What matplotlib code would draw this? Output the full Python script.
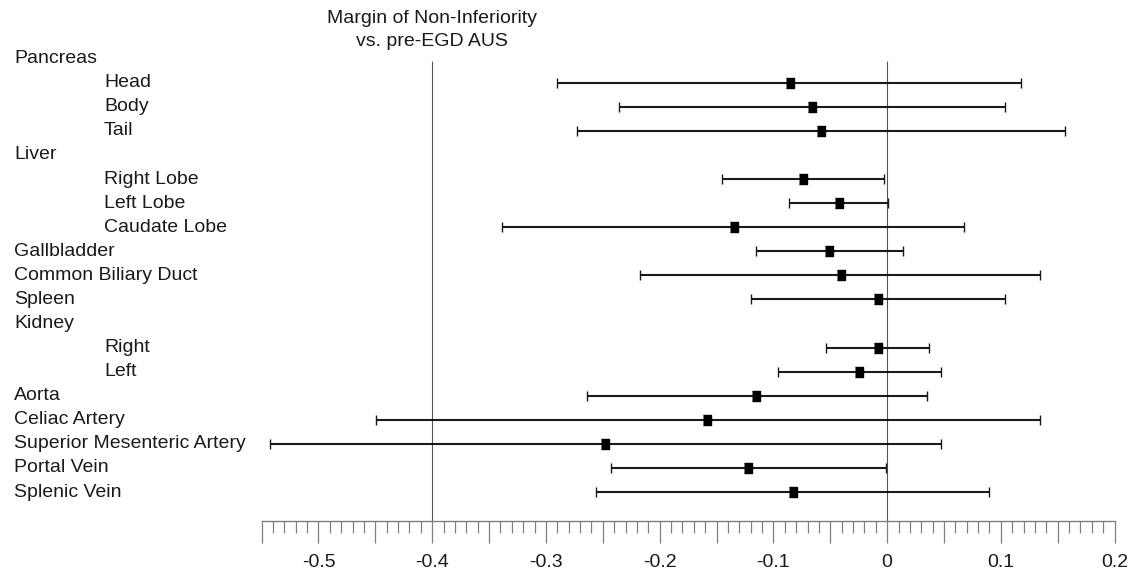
import numpy as np
import matplotlib.pyplot as plt
from matplotlib.ticker import MultipleLocator, FuncFormatter
from matplotlib.transforms import blended_transform_factory

plt.rcParams['font.family'] = ['Liberation Sans', 'DejaVu Sans']
plt.rcParams['axes.unicode_minus'] = False

# rows of the forest plot, top to bottom
labels = ["Pancreas", "Head", "Body", "Tail", "Liver", "Right Lobe", "Left Lobe",
          "Caudate Lobe", "Gallbladder", "Common Biliary Duct", "Spleen", "Kidney",
          "Right", "Left", "Aorta", "Celiac Artery", "Superior Mesenteric Artery",
          "Portal Vein", "Splenic Vein"]
indent = [0, 1, 1, 1, 0, 1, 1, 1, 0, 0, 0, 0, 1, 1, 0, 0, 0, 0, 0]
nan = np.nan
estimate = [nan, -0.085, -0.066, -0.058, nan, -0.074, -0.042, -0.135, -0.051, -0.041,
            -0.008, nan, -0.008, -0.025, -0.115, -0.158, -0.248, -0.122, -0.083]
lower = [nan, -0.290, -0.236, -0.273, nan, -0.145, -0.086, -0.339, -0.115, -0.217,
         -0.120, nan, -0.054, -0.096, -0.264, -0.449, -0.543, -0.243, -0.256]
upper = [nan, 0.118, 0.104, 0.156, nan, -0.003, 0.001, 0.068, 0.014, 0.134,
         0.104, nan, 0.037, 0.047, 0.035, 0.134, 0.047, -0.001, 0.090]
margin = -0.4

txt = '#1a1a1a'
fs = 14
fig = plt.figure(figsize=(11.45, 5.73), dpi=100)
ax = fig.add_axes([261.6 / 1145, (573 - 520.7) / 573, 853 / 1145, 520.7 / 573])

y = np.arange(len(labels))
est = np.array(estimate)
lo = np.array(lower)
hi = np.array(upper)
ok = ~np.isnan(est)

ax.vlines([margin, 0], 0.1, 19.19, color='#555555', lw=0.8, zorder=1)
ax.errorbar(est[ok], y[ok], xerr=[est[ok] - lo[ok], hi[ok] - est[ok]], fmt='none',
            ecolor='#1a1a1a', elinewidth=1.5, capsize=3.6, capthick=1.0, zorder=2)
box = [(-0.35, -0.5), (0.35, -0.5), (0.35, 0.5), (-0.35, 0.5)]
ax.plot(est[ok], y[ok], ls='none', marker=box, ms=7.4, color='black', zorder=3)

ax.set_xlim(-0.55, 0.2)
ax.set_ylim(19.19, -2.434)
for s in ['top', 'right', 'left']:
    ax.spines[s].set_visible(False)
ax.spines['bottom'].set_color('#808080')
ax.spines['bottom'].set_linewidth(1.0)
ax.set_yticks([])
ax.xaxis.set_major_locator(MultipleLocator(0.05))
ax.xaxis.set_minor_locator(MultipleLocator(0.01))


def fmt(v, pos):
    if abs(round(v * 10) - v * 10) > 1e-6:
        return ''
    return '0' if abs(v) < 1e-9 else f'{v:.1f}'


ax.xaxis.set_major_formatter(FuncFormatter(fmt))
ax.tick_params(axis='x', which='major', length=15.8, width=0.9, color='#808080',
               labelsize=fs, labelcolor=txt, pad=8)
ax.tick_params(axis='x', which='minor', length=8.8, width=0.9, color='#808080')

tr = blended_transform_factory(fig.transFigure, ax.transData)
for i, lab in enumerate(labels):
    xf = (104 if indent[i] else 14) / 1145
    ax.text(xf, i, lab, fontsize=fs, color=txt, va='center', ha='left',
            clip_on=False, transform=tr)

ax.text(margin, -1.65, 'Margin of Non-Inferiority', fontsize=fs, color=txt,
        ha='center', va='center')
ax.text(margin, -0.72, 'vs. pre-EGD AUS', fontsize=fs, color=txt,
        ha='center', va='center')

fig.savefig('out.png', dpi=100)
